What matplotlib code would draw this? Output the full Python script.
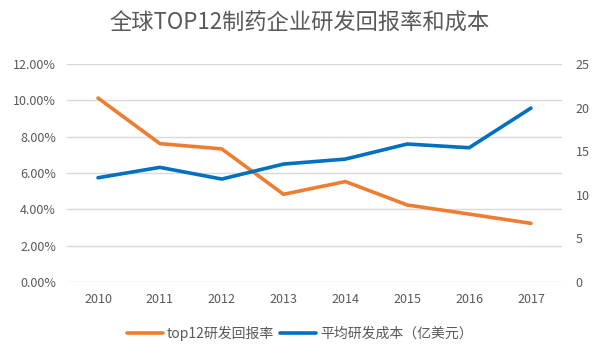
import matplotlib
matplotlib.use("Agg")
import matplotlib.pyplot as plt
from matplotlib.ticker import FuncFormatter, FixedLocator

plt.rcParams['font.family'] = ['Noto Sans CJK SC', 'DejaVu Sans']

years = ['2010', '2011', '2012', '2013', '2014', '2015', '2016', '2017']
return_rate = [10.13, 7.62, 7.33, 4.83, 5.53, 4.24, 3.74, 3.23]  # percent
avg_cost = [11.96, 13.15, 11.81, 13.53, 14.10, 15.83, 15.40, 19.95]  # 亿美元

title = '全球TOP12制药企业研发回报率和成本'
label_rate = 'top12研发回报率'
label_cost = '平均研发成本（亿美元）'

grey = '#595959'
fig = plt.figure(figsize=(5.99, 3.6), dpi=100)
ax = fig.add_axes([0.112, 0.2167, 0.826, 0.6053])
ax2 = ax.twinx()

x = list(range(len(years)))
l1, = ax.plot(x, return_rate, color='#ED7D31', lw=2.6, solid_capstyle='round', label=label_rate)
l2, = ax2.plot(x, avg_cost, color='#0070C0', lw=2.6, solid_capstyle='round', label=label_cost)

ax.set_xlim(-0.5, len(years) - 0.5)
ax.set_ylim(0, 12)
ax2.set_ylim(0, 25)
ax.yaxis.set_major_locator(FixedLocator([0, 2, 4, 6, 8, 10, 12]))
ax2.yaxis.set_major_locator(FixedLocator([0, 5, 10, 15, 20, 25]))
ax.yaxis.set_major_formatter(FuncFormatter(lambda v, p: f'{v:.2f}%'))
ax.set_xticks(x)
ax.set_xticklabels(years)
ax.grid(axis='y', color='#d9d9d9', lw=1)
ax.set_axisbelow(True)
for a in (ax, ax2):
    for s in a.spines.values():
        s.set_visible(False)
    a.tick_params(length=0, colors=grey, labelsize=9)
ax.tick_params(axis='x', pad=8)
ax.tick_params(axis='y', pad=8)
ax2.tick_params(axis='y', pad=10)

fig.text(0.5, 0.935, title, ha='center', va='center', fontsize=16, color=grey)
fig.legend(handles=[l1, l2], loc='center', bbox_to_anchor=(0.5, 0.075), ncol=2, frameon=False,
           fontsize=10, labelcolor=grey, handlelength=2.6, handletextpad=0.3, columnspacing=0.4)

fig.savefig('out.png', dpi=100)
